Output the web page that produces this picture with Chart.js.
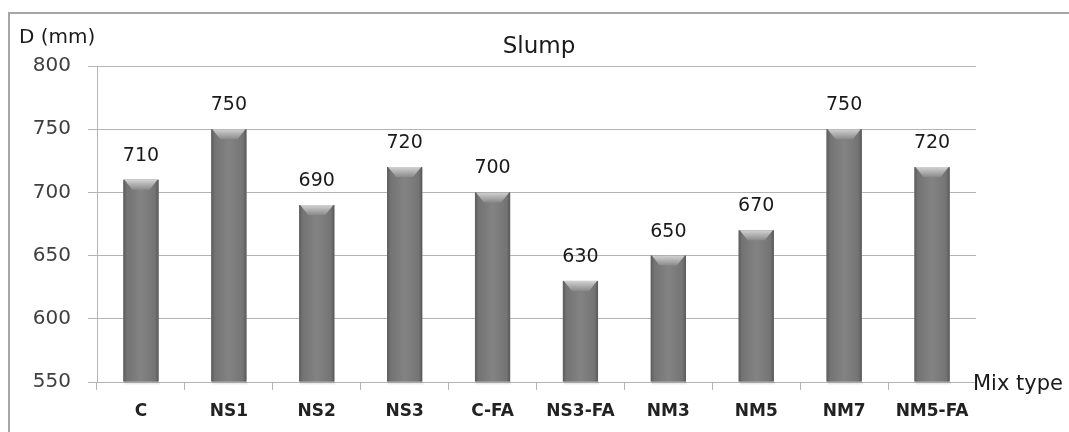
<!DOCTYPE html>
<html>
<head>
<meta charset="utf-8">
<script src="https://cdn.jsdelivr.net/npm/chart.js@4"></script>
<style>
  html, body { margin: 0; padding: 0; background: #ffffff; }
  #wrap { width: 1069px; height: 432px; position: relative; }
</style>
</head>
<body>
<div id="wrap"><canvas id="slumpChart" width="1069" height="432"></canvas></div>
<script>
// Slump flow diameter per mix type
const mixTypes = ['C', 'NS1', 'NS2', 'NS3', 'C-FA', 'NS3-FA', 'NM3', 'NM5', 'NM7', 'NM5-FA'];
const slumpValues = [710, 750, 690, 720, 700, 630, 650, 670, 750, 720];
const yTickValues = [550, 600, 650, 700, 750, 800];

const FONT = "'DejaVu Sans', sans-serif";

// Frame around the figure, the title and the two axis captions
const framePlugin = {
  id: 'frame',
  beforeDraw(chart) {
    const ctx = chart.ctx;
    ctx.save();
    ctx.fillStyle = '#ffffff';
    ctx.fillRect(0, 0, chart.width, chart.height);
    ctx.strokeStyle = '#a6a6a6';
    ctx.lineWidth = 2;
    ctx.beginPath();
    ctx.moveTo(9, chart.height);
    ctx.lineTo(9, 13);
    ctx.lineTo(chart.width, 13);
    ctx.stroke();
    ctx.restore();
  },
  afterDraw(chart) {
    const ctx = chart.ctx;
    const area = chart.chartArea;
    ctx.save();
    ctx.fillStyle = '#1a1a1a';
    ctx.textBaseline = 'alphabetic';
    ctx.textAlign = 'center';
    ctx.font = '23px ' + FONT;
    ctx.fillText('Slump', 539, 53);
    ctx.textAlign = 'left';
    ctx.font = '20px ' + FONT;
    ctx.fillText('D (mm)', 19, 43);
    ctx.font = '21px ' + FONT;
    ctx.fillText('Mix type', area.right - 3, area.bottom + 8);
    ctx.restore();
  }
};

// Shaded cylinder look for the bars plus value labels above them
const barStylePlugin = {
  id: 'barStyle',
  afterDatasetsDraw(chart) {
    const ctx = chart.ctx;
    const meta = chart.getDatasetMeta(0);
    const values = chart.data.datasets[0].data;
    const bottom = chart.chartArea.bottom;
    ctx.save();
    meta.data.forEach((bar, i) => {
      const { x, y, width } = bar.getProps(['x', 'y', 'width'], true);
      const base = Math.min(bar.base, bottom);
      const l = x - width / 2, r = x + width / 2;

      // soft shadow under the base
      ctx.fillStyle = 'rgba(0,0,0,0.08)';
      ctx.fillRect(l + 1, base, width, 3);

      const g = ctx.createLinearGradient(l, 0, r, 0);
      g.addColorStop(0, '#5c5c5c');
      g.addColorStop(0.1, '#737373');
      g.addColorStop(0.5, '#838383');
      g.addColorStop(0.9, '#747474');
      g.addColorStop(1, '#585858');
      ctx.fillStyle = g;
      ctx.fillRect(l, y, width, base - y);

      const capH = 10, inset = 9;
      const cg = ctx.createLinearGradient(0, y, 0, y + capH);
      cg.addColorStop(0, '#d2d2d2');
      cg.addColorStop(1, '#8a8a8a');
      ctx.beginPath();
      ctx.moveTo(l + 1, y);
      ctx.lineTo(r - 1, y);
      ctx.lineTo(r - inset, y + capH);
      ctx.lineTo(l + inset, y + capH);
      ctx.closePath();
      ctx.fillStyle = cg;
      ctx.fill();

      ctx.fillStyle = '#1a1a1a';
      ctx.font = '19px ' + FONT;
      ctx.textAlign = 'center';
      ctx.textBaseline = 'middle';
      ctx.fillText(String(values[i]), x, y - 24);
    });
    ctx.restore();
  }
};

new Chart(document.getElementById('slumpChart'), {
  type: 'bar',
  data: {
    labels: mixTypes,
    datasets: [{
      label: 'Slump',
      data: slumpValues,
      base: yTickValues[0],
      backgroundColor: '#7f7f7f',
      borderWidth: 0,
      barPercentage: 0.4,
      categoryPercentage: 1.0
    }]
  },
  options: {
    responsive: false,
    devicePixelRatio: 1,
    animation: false,
    layout: { padding: { left: 0, right: 93, top: 66, bottom: 0 } },
    plugins: {
      legend: { display: false },
      tooltip: { enabled: false },
      title: { display: false }
    },
    scales: {
      x: {
        grid: { drawOnChartArea: false, drawTicks: true, tickLength: 8, color: '#b4b4b4', offset: true },
        border: { display: true, color: '#b4b4b4', width: 1 },
        ticks: {
          color: '#222222',
          font: { family: FONT, size: 17, weight: 'bold' },
          padding: 11,
          maxRotation: 0,
          autoSkip: false
        },
        afterFit(scale) { scale.height = 50; }
      },
      y: {
        min: 550,
        max: 800,
        afterBuildTicks(scale) { scale.ticks = yTickValues.map(v => ({ value: v })); },
        grid: { color: '#b4b4b4', tickLength: 9, drawTicks: true },
        border: { display: true, color: '#b4b4b4', width: 1 },
        ticks: {
          color: '#404040',
          font: { family: FONT, size: 20 },
          padding: 17
        },
        afterFit(scale) { scale.width = 97; }
      }
    }
  },
  plugins: [framePlugin, barStylePlugin]
});
</script>
</body>
</html>
